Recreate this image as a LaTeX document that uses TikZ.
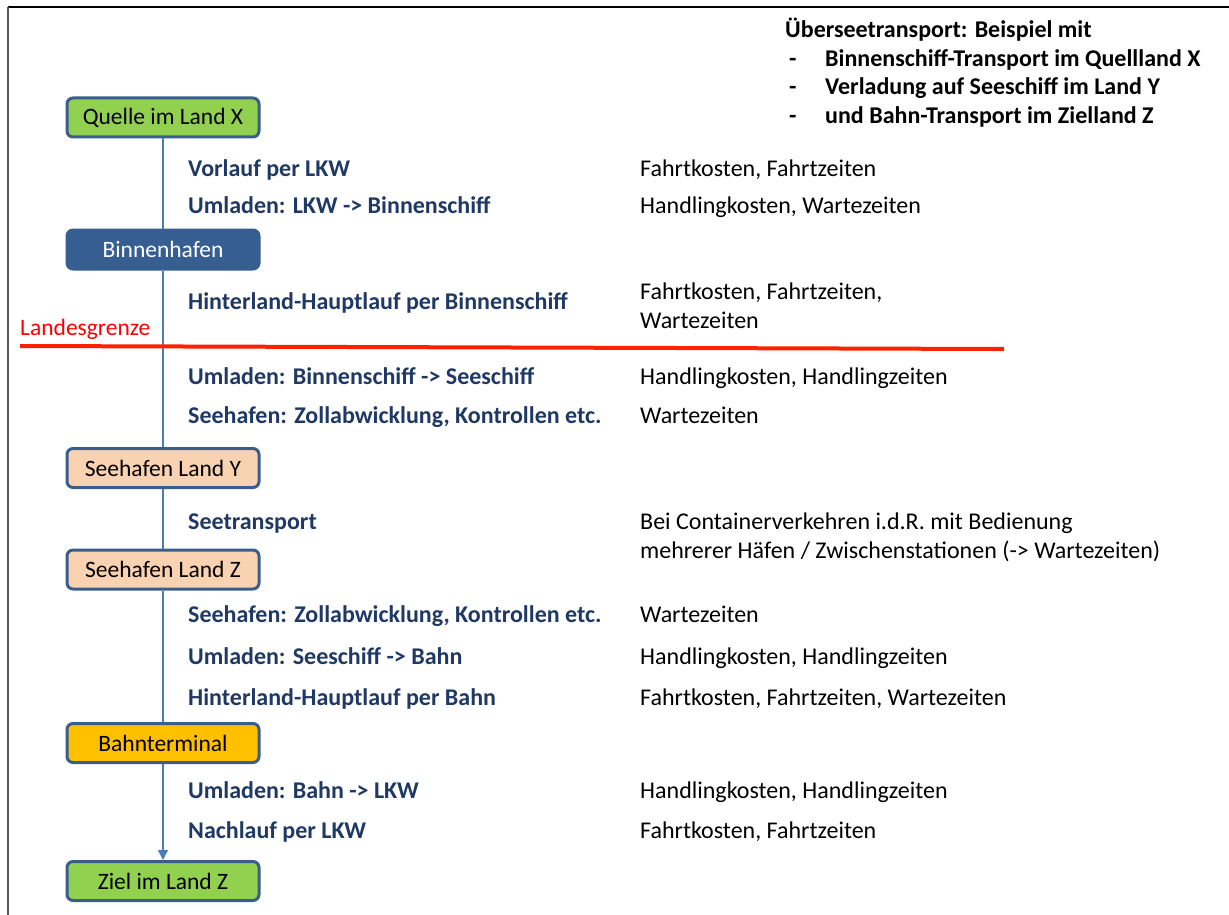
\documentclass[tikz,border=0pt]{standalone}
\usepackage{fontspec}
\setmainfont{Carlito}
\usetikzlibrary{arrows.meta}
\definecolor{boxgreen}{HTML}{92D050}
\definecolor{boxborder}{HTML}{3A5E8C}
\definecolor{boxdark}{HTML}{375E91}
\definecolor{boxpeach}{HTML}{F9D2B2}
\definecolor{boxorange}{HTML}{FFC000}
\definecolor{flowblue}{HTML}{4A7EBB}
\definecolor{labelblue}{HTML}{1F3864}
\definecolor{borderline}{HTML}{FF2200}
\definecolor{bordertext}{HTML}{FF0000}
\tikzset{
  base/.style={font=\fontsize{24}{28}\selectfont},
  stepbox/.style={font=\fontsize{23.5}{28}\selectfont, draw=boxborder, line width=3pt, rounded corners=6pt,
    minimum width=192pt, minimum height=39pt, inner sep=0pt, text=black},
  activity/.style={font=\fontsize{24}{28}\selectfont\bfseries, text=labelblue, anchor=base west, inner sep=0pt},
  cost/.style={base, text=black, anchor=base west, inner sep=0pt, align=left},
  headtext/.style={font=\fontsize{24}{28}\selectfont\bfseries, text=black, anchor=base west, inner sep=0pt},
  flow/.style={draw=flowblue, line width=1.3pt},
}
\begin{document}
\begin{tikzpicture}[x=1pt,y=-1pt]
\useasboundingbox (0,0) rectangle (1229,915);
% partial frame
\coordinate (frameTL) at (8,7);
\coordinate (frameTR) at (1229,7);
\coordinate (frameBL) at (8,915);
\draw[black, line width=1.5pt] (frameTR) -- (frameTL);
\draw[gray!70!black, line width=1.5pt] (frameTL) -- (frameBL);

% boxes
\node[stepbox, fill=boxgreen] (quelle) at (163,117.5) {Quelle im Land X};
\node[stepbox, fill=boxdark, draw=boxdark, text=white] (binnen) at (163,249.5) {Binnenhafen};
\node[stepbox, fill=boxpeach] (seeY) at (163,468) {Seehafen Land Y};
\node[stepbox, fill=boxpeach] (seeZ) at (163,569.5) {Seehafen Land Z};
\node[stepbox, fill=boxorange] (bahn) at (163,743) {Bahnterminal};
\node[stepbox, fill=boxgreen] (ziel) at (163,881) {Ziel im Land Z};

% flow line
\draw[flow] (quelle.south) -- (binnen.north);
\draw[flow] (binnen.south) -- (seeY.north);
\draw[flow] (seeY.south) -- (seeZ.north);
\draw[flow] (seeZ.south) -- (bahn.north);
\draw[flow, -{Triangle[width=10pt,length=10pt]}] (bahn.south) -- (ziel.north);

% border line
\coordinate (grenzeL) at (20,346);
\coordinate (grenzeR) at (1004,349);
\draw[draw=borderline, line width=4pt] (grenzeL) -- (grenzeR);
\node[font=\fontsize{23.5}{28}\selectfont, text=bordertext, anchor=base west, inner sep=0pt] (grenzlabel) at (20,335) {Landesgrenze};

% activities
\node[activity] (a1) at (188,176) {Vorlauf per LKW};
\node[activity] (a2) at (188,213) {Umladen: LKW -> Binnenschiff};
\node[activity] (a3) at (188,309) {Hinterland-Hauptlauf per Binnenschiff};
\node[activity] (a4) at (188,384) {Umladen: Binnenschiff -> Seeschiff};
\node[activity] (a5) at (188,423) {Seehafen: Zollabwicklung, Kontrollen etc.};
\node[activity] (a6) at (188,529) {Seetransport};
\node[activity] (a7) at (188,622) {Seehafen: Zollabwicklung, Kontrollen etc.};
\node[activity] (a8) at (188,664) {Umladen: Seeschiff -> Bahn};
\node[activity] (a9) at (188,705) {Hinterland-Hauptlauf per Bahn};
\node[activity] (a10) at (188,798) {Umladen: Bahn -> LKW};
\node[activity] (a11) at (188,838) {Nachlauf per LKW};

% costs
\node[cost] (c1) at (640,176) {Fahrtkosten, Fahrtzeiten};
\node[cost] (c2) at (640,213) {Handlingkosten, Wartezeiten};
\node[cost] (c3a) at (640,299) {Fahrtkosten, Fahrtzeiten,};
\node[cost] (c3b) at (640,328) {Wartezeiten};
\node[cost] (c4) at (640,384) {Handlingkosten, Handlingzeiten};
\node[cost] (c5) at (640,423) {Wartezeiten};
\node[cost] (c6a) at (640,529) {Bei Containerverkehren i.d.R. mit Bedienung};
\node[cost] (c6b) at (640,558) {mehrerer Häfen / Zwischenstationen (-> Wartezeiten)};
\node[cost] (c7) at (640,622) {Wartezeiten};
\node[cost] (c8) at (640,664) {Handlingkosten, Handlingzeiten};
\node[cost] (c9) at (640,705) {Fahrtkosten, Fahrtzeiten, Wartezeiten};
\node[cost] (c10) at (640,798) {Handlingkosten, Handlingzeiten};
\node[cost] (c11) at (640,838) {Fahrtkosten, Fahrtzeiten};

% heading
\node[headtext] (h0) at (785,38) {Überseetransport: Beispiel mit};
\node[headtext] (d1) at (789,67) {-};
\node[headtext] (h1) at (825,67) {Binnenschiff-Transport im Quellland X};
\node[headtext] (d2) at (789,95) {-};
\node[headtext] (h2) at (825,95) {Verladung auf Seeschiff im Land Y};
\node[headtext] (d3) at (789,124) {-};
\node[headtext] (h3) at (825,124) {und Bahn-Transport im Zielland Z};
\end{tikzpicture}
\end{document}
